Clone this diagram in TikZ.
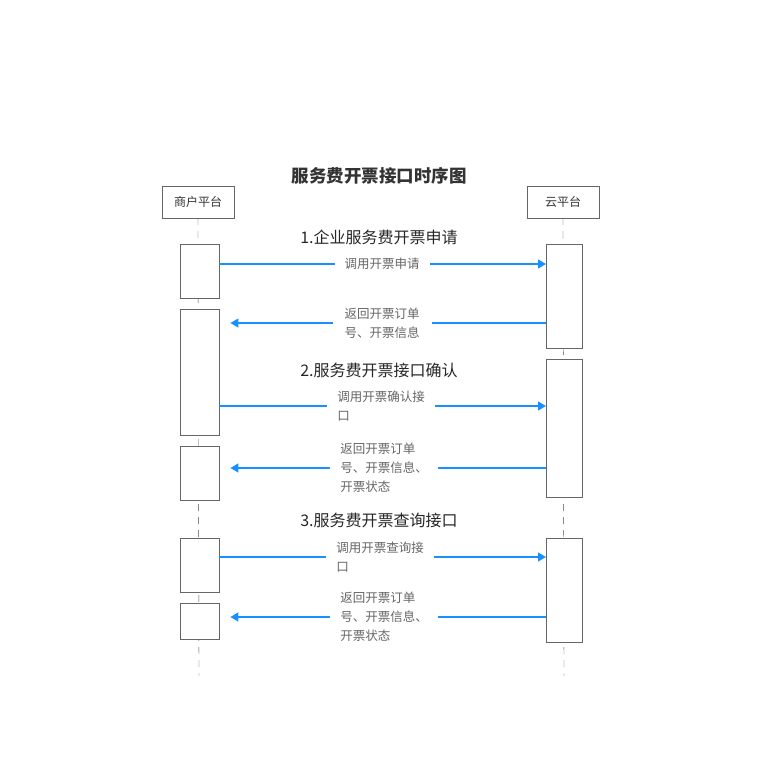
\documentclass[tikz,border=0pt]{standalone}
\usepackage{fontspec}
\setmainfont{Noto Sans CJK SC}
\usetikzlibrary{arrows.meta}
\definecolor{msgblue}{HTML}{1890FF}
\definecolor{txtgrey}{HTML}{666666}
\tikzset{
  head/.style={draw=black!60, minimum width=72pt, minimum height=32pt, inner sep=0pt, font=\fontsize{12}{14}\selectfont, text=black!80},
  act/.style={draw=black!60, fill=white, anchor=north west, inner sep=0pt},
  life/.style={draw=black!70, dash pattern=on 7pt off 6pt},
  msg/.style={draw=msgblue, line width=1.3pt, -{Triangle[length=8pt,width=9pt]}},
  lbl/.style={fill=white, text=txtgrey, font=\fontsize{12.5}{19}\selectfont, align=left, inner xsep=10pt, inner ysep=2pt},
  sect/.style={font=\fontsize{16}{18}\selectfont, text=black!85},
}
\begin{document}
\begin{tikzpicture}[x=1pt,y=-1pt]
  \useasboundingbox (0,0) rectangle (762,776);
  \node[font=\bfseries\fontsize{17.5}{20}\selectfont, text=black!80] (title) at (379,176) {服务费开票接口时序图};
  \node[head] (merchant) at (198,202) {商户平台};
  \node[head] (cloud) at (563,202) {云平台};
  \coordinate (mend) at (199,676);
  \coordinate (cend) at (564,676);
  \draw[life] (merchant.south) -- (mend);
  \draw[life] (cloud.south) -- (cend);
  % activations
  \node[act, minimum width=39pt, minimum height=54pt] (ma1) at (180,244) {};
  \node[act, minimum width=39pt, minimum height=126pt] (ma2) at (180,309) {};
  \node[act, minimum width=39pt, minimum height=54pt] (ma3) at (180,446) {};
  \node[act, minimum width=39pt, minimum height=54pt] (ma4) at (180,538) {};
  \node[act, minimum width=39pt, minimum height=36pt] (ma5) at (180,603) {};
  \node[act, minimum width=36pt, minimum height=104pt] (ca1) at (546,244) {};
  \node[act, minimum width=36pt, minimum height=138pt] (ca2) at (546,359) {};
  \node[act, minimum width=36pt, minimum height=104pt] (ca3) at (546,538) {};
  % sections
  \node[sect] (s1) at (379,237) {1.企业服务费开票申请};
  \node[sect] (s2) at (379,370) {2.服务费开票接口确认};
  \node[sect] (s3) at (379,520) {3.服务费开票查询接口};
  % messages
  \draw[msg] (ma1.east|-0,264) -- (ca1.west|-0,264);
  \node[lbl] (m1) at (382,264) {调用开票申请};
  \draw[msg] (ca1.west|-0,323) -- ([xshift=11pt]ma2.east|-0,323);
  \node[lbl, inner xsep=12pt] (m2) at (382,323) {返回开票订单\\号、开票信息};
  \draw[msg] (ma2.east|-0,406) -- (ca2.west|-0,406);
  \node[lbl] (m3) at (381,406) {调用开票确认接\\口};
  \draw[msg] (ca2.west|-0,468) -- ([xshift=11pt]ma3.east|-0,468);
  \node[lbl] (m4) at (384,468) {返回开票订单\\号、开票信息、\\开票状态};
  \draw[msg] (ma4.east|-0,557) -- (ca3.west|-0,557);
  \node[lbl] (m5) at (380,557) {调用开票查询接\\口};
  \draw[msg] (ca3.west|-0,617) -- ([xshift=11pt]ma5.east|-0,617);
  \node[lbl] (m6) at (384,617) {返回开票订单\\号、开票信息、\\开票状态};
\end{tikzpicture}
\end{document}
